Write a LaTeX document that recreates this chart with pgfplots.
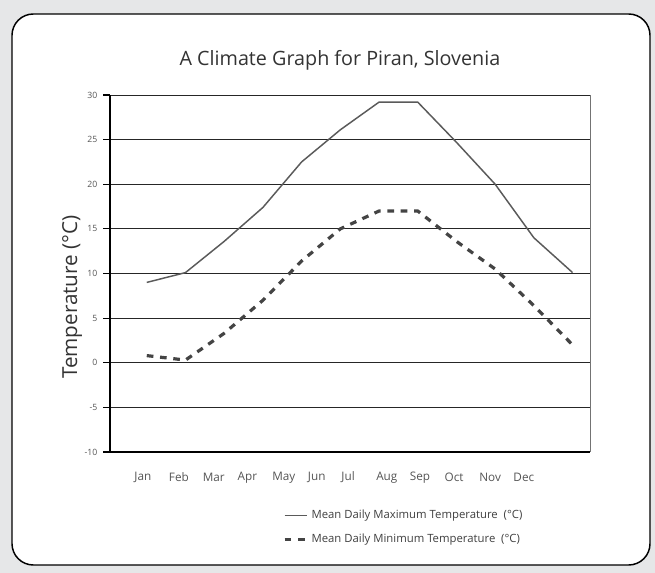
\documentclass[border=0pt]{standalone}
\usepackage{fontspec}
\setmainfont{Open Sans}
\usepackage{pgfplots}
\pgfplotsset{compat=1.18}
\definecolor{bggray}{HTML}{E6E7E8}
\definecolor{maxline}{HTML}{5A5A5A}
\definecolor{minline}{HTML}{444444}
\definecolor{txtgray}{HTML}{555555}
\pgfplotstableread{
m tmax tmin
0  9.0  0.8
1  10.1 0.3
2  13.6 3.3
3  17.4 7.0
4  22.5 11.4
5  26.1 15.0
6  29.2 17.0
7  29.2 17.0
8  24.7 13.6
9  20.0 10.5
10 14.0 6.4
11 10.1 2.0
}\climate
\begin{document}
\begin{tikzpicture}
\fill[bggray] (0,0) rectangle (491.25pt,429.75pt);
\draw[line width=1.1pt, rounded corners=16pt, fill=white] (9pt,6pt) rectangle (487.5pt,419.25pt);
\begin{axis}[
  at={(82.5pt,90.75pt)}, anchor=south west,
  scale only axis, width=360pt, height=267.75pt,
  xmin=-0.95, xmax=11.45, ymin=-10, ymax=30,
  axis x line*=bottom, axis y line*=left,
  x axis line style={-, line width=1.6pt, black},
  y axis line style={-, line width=1.6pt, black},
  ytick={-10,-5,...,30},
  ymajorgrids, major grid style={black!85, line width=0.6pt},
  tick align=outside, major tick length=5pt,
  ytick style={black, line width=0.8pt},
  yticklabel style={font=\fontsize{6.5}{7}\selectfont, text=txtgray, xshift=-1pt},
  /pgf/number format/assume math mode=true,
  xtick={-0.1,0.83,1.73,2.6,3.54,4.39,5.2,6.2,7.06,7.94,8.87,9.74},
  xticklabels={Jan,Feb,Mar,Apr,May,Jun,Jul,Aug,Sep,Oct,Nov,Dec},
  xtick style={draw=none},
  xticklabel style={font=\fontsize{8.8}{10}\selectfont, text=txtgray, anchor=center, yshift=-14pt},
  extra x ticks={11.45}, extra x tick labels={},
  extra x tick style={grid=major, major grid style={black!55, line width=0.6pt}, tick style={draw=none}},
  title={A Climate Graph for Piran, Slovenia},
  title style={at={(axis description cs:0.479,1)}, anchor=center, yshift=20pt, font=\fontsize{14.8}{17}\selectfont, text=black!80},
  ylabel={Temperature (°C)},
  ylabel style={at={(axis description cs:-0.079,0.434)}, anchor=center, font=\fontsize{15.5}{18}\selectfont, text=black!80},
  legend style={draw=none, fill=none, at={(axis description cs:0.36,-0.155)}, anchor=north west,
    font=\fontsize{8.5}{10}\selectfont, text=black!75, row sep=6pt, inner sep=0pt},
  legend cell align=left,
  legend image code/.code={\draw[#1] (0pt,0pt) -- (17pt,0pt);},
  clip=false,
]
\addplot[maxline, line width=1.1pt] table[x=m, y=tmax] {\climate};
\addlegendentry{Mean Daily Maximum Temperature\ \ (°C)}
\addplot[minline, line width=2.4pt, dash pattern=on 5pt off 5pt] table[x=m, y=tmin] {\climate};
\addlegendentry{Mean Daily Minimum Temperature\ \ (°C)}
\end{axis}
\end{tikzpicture}
\end{document}
